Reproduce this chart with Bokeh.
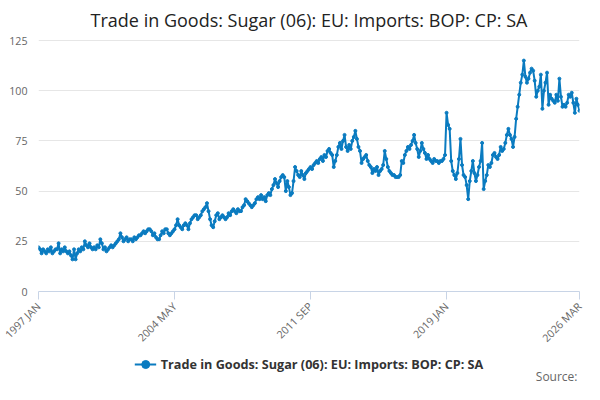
from bokeh.plotting import figure
from bokeh.layouts import column
from bokeh.models import Legend, LegendItem, Label, FixedTicker
from bokeh.embed import file_html
from bokeh.resources import INLINE

title = "Trade in Goods: Sugar (06): EU: Imports: BOP: CP: SA"
series_name = "Trade in Goods: Sugar (06): EU: Imports: BOP: CP: SA"

# monthly values, Jan 1997 .. Mar 2026
values = [
    22, 21, 19, 21, 20, 19, 21, 20, 22, 19, 20, 21,  # 1997
    21, 24, 19, 21, 20, 22, 20, 19, 20, 18, 16, 21,  # 1998
    16, 19, 21, 20, 22, 21, 25, 23, 22, 24, 22, 21,  # 1999
    22, 21, 23, 22, 26, 24, 21, 22, 20, 21, 22, 23,  # 2000
    22, 23, 24, 25, 26, 29, 27, 25, 26, 27, 25, 26,  # 2001
    26, 25, 27, 26, 27, 28, 28, 29, 30, 29, 30, 31,  # 2002
    31, 30, 28, 29, 27, 26, 26, 28, 30, 29, 31, 31,  # 2003
    29, 28, 29, 30, 31, 33, 36, 33, 32, 31, 33, 34,  # 2004
    33, 31, 34, 36, 37, 38, 38, 36, 37, 38, 40, 41,  # 2005
    42, 44, 40, 36, 33, 32, 35, 38, 39, 36, 37, 38,  # 2006
    37, 36, 37, 39, 38, 40, 41, 40, 39, 41, 40, 40,  # 2007
    42, 43, 46, 45, 44, 43, 42, 43, 44, 46, 47, 46,  # 2008
    48, 46, 47, 45, 48, 49, 48, 51, 53, 56, 54, 52,  # 2009
    55, 57, 58, 57, 50, 55, 52, 48, 49, 55, 62, 60,  # 2010
    58, 57, 60, 58, 56, 59, 60, 61, 62, 61, 63, 64,  # 2011
    65, 64, 66, 67, 65, 68, 67, 70, 71, 69, 68, 62,  # 2012
    65, 68, 72, 74, 71, 75, 78, 72, 70, 73, 71, 75,  # 2013
    77, 80, 76, 72, 70, 64, 66, 67, 68, 65, 63, 62,  # 2014
    59, 61, 60, 62, 58, 60, 61, 63, 70, 66, 62, 60,  # 2015
    59, 58, 58, 57, 57, 57, 58, 65, 64, 68, 70, 72,  # 2016
    71, 73, 75, 78, 74, 71, 67, 70, 74, 71, 69, 66,  # 2017
    68, 66, 65, 64, 66, 65, 65, 64, 65, 65, 66, 68,  # 2018
    89, 83, 81, 65, 60, 58, 56, 59, 66, 76, 63, 58,  # 2019
    57, 53, 46, 55, 60, 65, 59, 55, 58, 62, 65, 74,  # 2020
    51, 55, 58, 63, 62, 64, 68, 69, 67, 66, 68, 72,  # 2021
    70, 71, 74, 78, 81, 78, 76, 72, 77, 86, 92, 98,  # 2022
    104, 108, 115, 107, 104, 106, 109, 111, 110, 105, 97, 100,  # 2023
    102, 108, 91, 100, 104, 109, 93, 98, 96, 95, 94, 98,  # 2024
    95, 106, 97, 92, 93, 92, 94, 98, 97, 99, 94, 89,  # 2025
    96, 93, 90,  # 2026
]
tick_labels = {0: "1997 JAN", 88: "2004 MAY", 176: "2011 SEP", 264: "2019 JAN", 350: "2026 MAR"}
y_ticks = [0, 25, 50, 75, 100, 125]

xs = list(range(len(values)))
color = "#0A7BC0"

p = figure(width=584, height=352, output_backend="svg", toolbar_location=None,
           x_range=(0, len(values) - 1), y_range=(0, 127),
           min_border_left=38, min_border_right=5, min_border_top=12,
           min_border_bottom=0)
p.title.text = title
p.title.align = "center"
p.title.text_font = "Open Sans"
p.title.text_font_size = "13.5pt"
p.title.text_font_style = "normal"
p.title.text_color = "#222222"
p.outline_line_color = None

r = p.line(xs, values, color=color, line_width=2)
c = p.scatter(xs, values, color=color, size=3)

p.xaxis.ticker = FixedTicker(ticks=list(tick_labels.keys()))
p.xaxis.major_label_overrides = tick_labels
p.xaxis.major_label_orientation = 0.785
p.xaxis.axis_line_color = "#C8D4E6"
p.xaxis.major_tick_line_color = "#C8D4E6"
p.xaxis.major_tick_out = 8
p.xaxis.major_tick_in = 0
p.xaxis.minor_tick_line_color = None
p.yaxis.ticker = FixedTicker(ticks=y_ticks)
p.yaxis.axis_line_color = None
p.yaxis.major_tick_line_color = None
p.yaxis.minor_tick_line_color = None
for ax in (p.xaxis, p.yaxis):
    ax.major_label_text_font = "Open Sans"
    ax.major_label_text_font_size = "8pt"
    ax.major_label_text_color = "#666666"
p.xgrid.grid_line_color = None
p.ygrid.grid_line_color = "#E6E6E6"

# legend and source line in a strip below the chart
q = figure(width=584, height=32, output_backend="svg", toolbar_location=None,
           x_range=(0, 1), y_range=(0, 1), min_border=0)
q.axis.visible = False
q.grid.visible = False
q.outline_line_color = None
lr = q.line([-5, -4], [-5, -5], color=color, line_width=2)
lc = q.scatter([-5], [-5], color=color, size=5)
legend = Legend(items=[LegendItem(label=series_name, renderers=[lr, lc])],
                location="top_center", orientation="horizontal",
                label_text_font="Open Sans", label_text_font_size="9.5pt",
                label_text_font_style="bold", label_text_color="#333333",
                border_line_color=None, background_fill_alpha=0,
                glyph_width=22, margin=2, padding=2)
q.add_layout(legend, "center")
q.add_layout(Label(x=1, y=0, text="Source:", text_align="right", text_baseline="bottom",
                   x_offset=-2, y_offset=0, text_font="Open Sans", text_font_size="9pt",
                   text_color="#666666"))

open("out.html", "w").write(file_html(column(p, q, spacing=0), INLINE))
